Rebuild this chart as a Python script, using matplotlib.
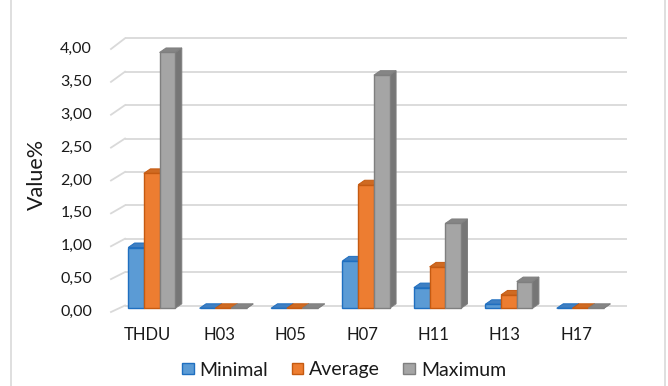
import matplotlib
matplotlib.use("Agg")
import matplotlib.pyplot as plt
from matplotlib.patches import Polygon, Patch, Rectangle

categories = ["THDU", "H03", "H05", "H07", "H11", "H13", "H17"]
minimal = [0.91, 0.0, 0.0, 0.71, 0.31, 0.06, 0.0]
average = [2.02, 0.0, 0.0, 1.85, 0.62, 0.20, 0.0]
maximum = [3.83, 0.0, 0.0, 3.49, 1.27, 0.40, 0.0]
series_names = ["Minimal", "Average", "Maximum"]
y_ticks = [0.0, 0.5, 1.0, 1.5, 2.0, 2.5, 3.0, 3.5, 4.0]

# face, edge, top, side
styles = [
    ("#5B9BD5", "#1F6FC0", "#3F7FC2", "#3A74B0"),
    ("#ED7D31", "#C55A11", "#CF6A22", "#B85E1E"),
    ("#A5A5A5", "#7F7F7F", "#858585", "#767676"),
]

W, H = 668, 386
fig = plt.figure(figsize=(W / 100, H / 100), dpi=100)
plt.rcParams["font.family"] = ["Lato", "DejaVu Sans"]
txt_c = "#1A1A1A"

# axes in pixel units of the figure
ax_left, ax_right = 116, 616
ax_bottom, ax_top = 308.3, 41.1
ax = fig.add_axes([ax_left / W, 1 - ax_bottom / H,
                   (ax_right - ax_left) / W, (ax_bottom - ax_top) / H])
ax.set_xlim(-0.5, 6.5)
ax.set_ylim(0, 4)
ax.axis("off")

sx = (ax_right - ax_left) / 7.0
sy = (ax_bottom - ax_top) / 4.0


def px_x(p):
    return (p - ax_left) / sx - 0.5


grid_c = "#D9D9D9"
back_dy = 2.8 / sy
for v in y_ticks:
    yb = v + back_dy
    yf = v - (3.7 + 1.05 * v) / sy
    ax.plot([px_x(125), px_x(627)], [yb, yb], color=grid_c, lw=1.3,
            clip_on=False, zorder=1, solid_capstyle="butt")
    ax.plot([px_x(111), px_x(125)], [yf, yb], color=grid_c, lw=1.3,
            clip_on=False, zorder=1)
    ax.text(px_x(92), yf, f"{v:.2f}".replace(".", ","), ha="right", va="center",
            fontsize=11.5, color=txt_c)

# depth of each bar
dx = 6.5 / sx
dy = 4.5 / sy
bw = 0.22
offsets = [-bw, 0.0, bw]
values = [minimal, average, maximum]

z = 2
for i in range(len(categories)):
    for s, vals in enumerate(values):
        face, edge, top, side = styles[s]
        h = vals[i]
        x0 = i + offsets[s] - bw / 2
        side_poly = Polygon([(x0 + bw, 0), (x0 + bw + dx, dy), (x0 + bw + dx, h + dy), (x0 + bw, h)],
                            closed=True, facecolor=side, edgecolor=edge, lw=0.7,
                            zorder=z, clip_on=False)
        top_poly = Polygon([(x0, h), (x0 + bw, h), (x0 + bw + dx, h + dy), (x0 + dx, h + dy)],
                           closed=True, facecolor=top, edgecolor=edge, lw=0.7,
                           zorder=z, clip_on=False)
        ax.add_patch(side_poly)
        ax.add_patch(top_poly)
        ax.bar(x0, h, width=bw, align="edge", color=face, edgecolor=edge,
               linewidth=1.0, zorder=z + 0.5, clip_on=False)
        z += 1

for i, c in enumerate(categories):
    ax.text(i - 4 / sx, -(335 - ax_bottom) / sy, c, ha="center", va="center",
            fontsize=12, color=txt_c, clip_on=False)

fig.text(37 / W, 1 - 174 / H, "Value%", rotation=90, ha="center", va="center",
         fontsize=15.5, color=txt_c)

handles = [Patch(facecolor=styles[k][0], edgecolor=styles[k][1], linewidth=1.0)
           for k in range(3)]
fig.legend(handles, series_names, loc="center", bbox_to_anchor=(344 / W, 1 - 370 / H),
           ncol=3, frameon=False, fontsize=14, handlelength=0.6, handleheight=0.45,
           handletextpad=0.3, columnspacing=1.2, labelcolor=txt_c)

fig.patches.append(Rectangle((11 / W, -0.1), 654 / W, 1.2, transform=fig.transFigure,
                             fill=False, edgecolor="#D9D9D9", lw=1.2))

fig.savefig("out.png", dpi=100)
